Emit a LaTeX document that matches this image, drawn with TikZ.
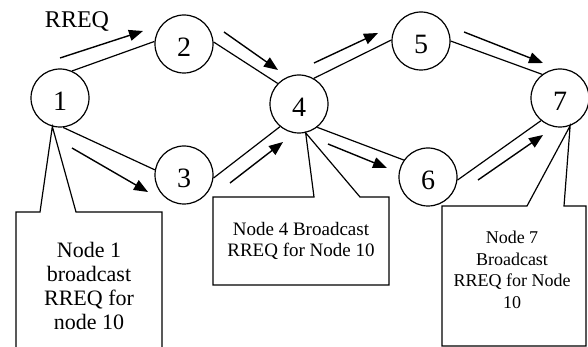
\documentclass[tikz,border=0pt]{standalone}
\usepackage{fontspec}
\setmainfont{Liberation Serif}
\usetikzlibrary{arrows.meta}

\begin{document}
\begin{tikzpicture}[x=1pt,y=-1pt,
  peer/.style={draw, line width=1.2pt, circle, minimum size=58pt, inner sep=0pt,
    text height=26pt, text depth=0pt, font=\fontsize{28}{30}\selectfont},
  link/.style={line width=1.2pt},
  flow/.style={line width=1.4pt, -{Triangle[length=14pt,width=11pt]}},
  callout/.style={line width=1.2pt},
  note/.style={align=center, inner sep=0pt}]
\useasboundingbox (0,0) rectangle (588,347);

% network nodes
\node[peer] (n1) at (60,98) {1};
\node[peer] (n2) at (184,44) {2};
\node[peer] (n3) at (184,175) {3};
\node[peer] (n4) at (299,104) {4};
\node[peer] (n5) at (421,41) {5};
\node[peer] (n6) at (428,177) {6};
\node[peer] (n7) at (560,98) {7};

% links between nodes
\draw[link] (n1.66) -- (n2.175);
\draw[link] (n1.-84) -- (n3.170);
\draw[link] (n2.4) -- (n4.136);
\draw[link] (n3.-6) -- (n4.230);
\draw[link] (n4.60) -- (n5.178);
\draw[link] (n4.-52) -- (n6.145);
\draw[link] (n5.0) -- (n7.127);
\draw[link] (n6.-6) -- (n7.230);

% RREQ propagation arrows beside the links
\coordinate (a12s) at (60,58);   \coordinate (a12e) at (143,31);
\coordinate (a24s) at (224,32);  \coordinate (a24e) at (278,70);
\coordinate (a13s) at (72,148);  \coordinate (a13e) at (148,192);
\coordinate (a34s) at (230,183); \coordinate (a34e) at (283,142);
\coordinate (a45s) at (314,63);  \coordinate (a45e) at (378,33);
\coordinate (a57s) at (464,32);  \coordinate (a57e) at (543,63);
\coordinate (a46s) at (328,144); \coordinate (a46e) at (387,168);
\coordinate (a67s) at (478,180); \coordinate (a67e) at (543,135);
\foreach \a in {12,24,13,34,45,57,46,67}
  \draw[flow] (a\a s) -- (a\a e);

\node[anchor=base, inner sep=0pt, font=\fontsize{24}{26}\selectfont] (rreq) at (77,28) {RREQ};

% callout for node 1 (runs off the lower edge)
\coordinate (c1a) at (16,349);  \coordinate (c1b) at (16,212);
\coordinate (c1c) at (40,212);  \coordinate (c1d) at (76,212);
\coordinate (c1e) at (162,212); \coordinate (c1f) at (162,349);
\draw[callout] (c1a) -- (c1b) -- (c1c) -- (n1.-105) -- (c1d) -- (c1e) -- (c1f);
\node[note, font=\fontsize{22}{24}\selectfont] (t1) at (89,286)
  {Node 1\\broadcast\\RREQ for\\node 10};

% callout for node 4
\coordinate (c4a) at (213,197); \coordinate (c4b) at (314,197);
\coordinate (c4c) at (360,197); \coordinate (c4d) at (389,197);
\coordinate (c4e) at (389,285); \coordinate (c4f) at (213,285);
\draw[callout] (c4a) -- (c4b) -- (n4.-77) -- (c4c) -- (c4d) -- (c4e) -- (c4f) -- cycle;
\node[note, font=\fontsize{19}{20.5}\selectfont] (t4) at (301,241)
  {Node 4 Broadcast\\RREQ for Node 10};

% callout for node 7
\coordinate (c7a) at (442,206); \coordinate (c7b) at (527,206);
\coordinate (c7c) at (564,206); \coordinate (c7d) at (586,206);
\coordinate (c7e) at (586,346); \coordinate (c7f) at (442,346);
\draw[callout] (c7a) -- (c7b) -- (n7.-70) -- (c7c) -- (c7d) -- (c7e) -- (c7f) -- cycle;
\node[note, font=\fontsize{18}{21.5}\selectfont] (t7) at (512,270)
  {Node 7\\Broadcast\\RREQ for Node\\10};
\end{tikzpicture}
\end{document}
